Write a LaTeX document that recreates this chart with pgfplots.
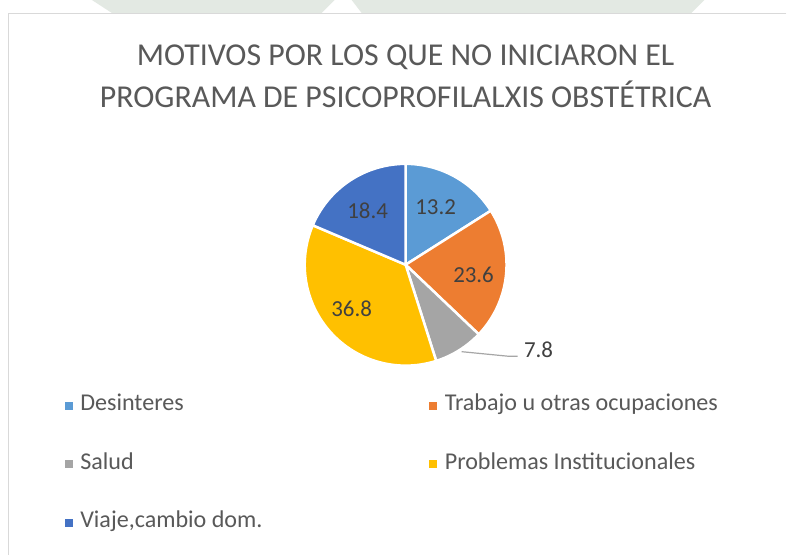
\documentclass[border=0pt]{standalone}
\usepackage{pgfplots}
\pgfplotsset{compat=1.18}
\usepackage{pgfplotstable}
\usepackage{fontspec}
\setmainfont{Carlito}
\definecolor{cDes}{HTML}{5B9BD5}
\definecolor{cTra}{HTML}{ED7D31}
\definecolor{cSal}{HTML}{A5A5A5}
\definecolor{cPro}{HTML}{FFC000}
\definecolor{cVia}{HTML}{4472C4}
\definecolor{cTxt}{HTML}{595959}
\definecolor{cLab}{HTML}{404040}
\definecolor{cFrame}{HTML}{D9D9D9}
\definecolor{cWM}{HTML}{E3E9E3}
\definecolor{cLead}{HTML}{A6A6A6}

% name; label value; share of the circle as drawn (%); colour
\pgfplotstableread[col sep=semicolon]{
name;value;share;color
Desinteres;13.2;16.0;cDes
Trabajo u otras ocupaciones;23.6;21.1;cTra
Salud;7.8;8.0;cSal
Problemas Institucionales;36.8;36.3;cPro
Viaje,cambio dom.;18.4;18.6;cVia
}\pietable
\pgfplotstablecreatecol[expr accum={\pgfmathaccuma + \thisrow{share}}{0}]{cum}\pietable

\begin{document}
\begin{tikzpicture}
\begin{axis}[
  width=787bp, height=556bp, scale only axis,
  xmin=0, xmax=787, ymin=0, ymax=556, y dir=reverse,
  hide axis, clip=false,
  legend columns=2, legend cell align=left,
  legend style={at={(65/787,0.2878)}, anchor=north west, draw=none, fill=none,
    inner sep=0pt, outer sep=0pt, row sep=38.5bp,
    font=\fontsize{24.2}{24.2}\selectfont, text=cTxt,
    nodes={inner sep=0pt, text height=15bp, text depth=5bp},
    /tikz/column 1/.style={column sep=8bp},
    /tikz/column 2/.style={column sep=167bp},
    /tikz/column 3/.style={column sep=8bp}},
]
% background and frame
\addplot[fill=white, draw=none, forget plot] coordinates {(0,0) (787,0) (787,556) (0,556)} -- cycle;
\addplot[fill=cWM, draw=none, forget plot] coordinates {(92,0) (335,0) (322,13) (112,13)} -- cycle;
\addplot[fill=cWM, draw=none, forget plot] coordinates {(352,0) (705,0) (692,13) (362,13)} -- cycle;
\addplot[draw=cFrame, line width=1.5bp, forget plot] coordinates {(787,13.5) (8.5,13.5) (8.5,556)};

% pie slices
\pgfplotsinvokeforeach{0,...,4}{
  \pgfplotstablegetelem{#1}{cum}\of\pietable
  \pgfmathsetmacro\endA{3.6*\pgfplotsretval}
  \pgfplotstablegetelem{#1}{share}\of\pietable
  \pgfmathsetmacro\startA{\endA-3.6*\pgfplotsretval}
  \pgfplotstablegetelem{#1}{color}\of\pietable
  \edef\doslice{\noexpand\addplot[fill=\pgfplotsretval, draw=white, line width=2.5bp, line join=round,
     domain=\startA:\endA, samples=60, variable=\noexpand\t, forget plot]
     ({406+101*sin(\noexpand\t)},{265-101*cos(\noexpand\t)}) -- (axis cs:406,265) -- cycle;}
  \doslice
}

% leader line for 7.8
\addplot[draw=cLead, line width=1.2bp, forget plot] coordinates {(462,352) (508,356.5) (518,356.5)};

% data labels
\node[font=\fontsize{23}{23}\selectfont, text=cLab] at (axis cs:436,207) {13.2};
\node[font=\fontsize{23}{23}\selectfont, text=cLab] at (axis cs:474,275) {23.6};
\node[font=\fontsize{23}{23}\selectfont, text=cLab, anchor=west] at (axis cs:521,350) {7.8};
\node[font=\fontsize{23}{23}\selectfont, text=cLab] at (axis cs:352,309) {36.8};
\node[font=\fontsize{23}{23}\selectfont, text=cLab] at (axis cs:368,211) {18.4};

% title
\node[font=\fontsize{32}{43}\selectfont, text=cTxt, align=center, anchor=base] at (axis cs:406,108)
  {MOTIVOS POR LOS QUE NO INICIARON EL\\PROGRAMA DE PSICOPROFILALXIS OBSTÉTRICA};

% legend
\addlegendimage{legend image code/.code={\fill[cDes] (0bp,-3.5bp) rectangle (7bp,3.5bp);}}
\addlegendentry{Desinteres}
\addlegendimage{legend image code/.code={\fill[cTra] (0bp,-3.5bp) rectangle (7bp,3.5bp);}}
\addlegendentry{Trabajo u otras ocupaciones}
\addlegendimage{legend image code/.code={\fill[cSal] (0bp,-3.5bp) rectangle (7bp,3.5bp);}}
\addlegendentry{Salud}
\addlegendimage{legend image code/.code={\fill[cPro] (0bp,-3.5bp) rectangle (7bp,3.5bp);}}
\addlegendentry{Problemas Institucionales}
\addlegendimage{legend image code/.code={\fill[cVia] (0bp,-3.5bp) rectangle (7bp,3.5bp);}}
\addlegendentry{Viaje,cambio dom.}
\end{axis}
\end{tikzpicture}
\end{document}
